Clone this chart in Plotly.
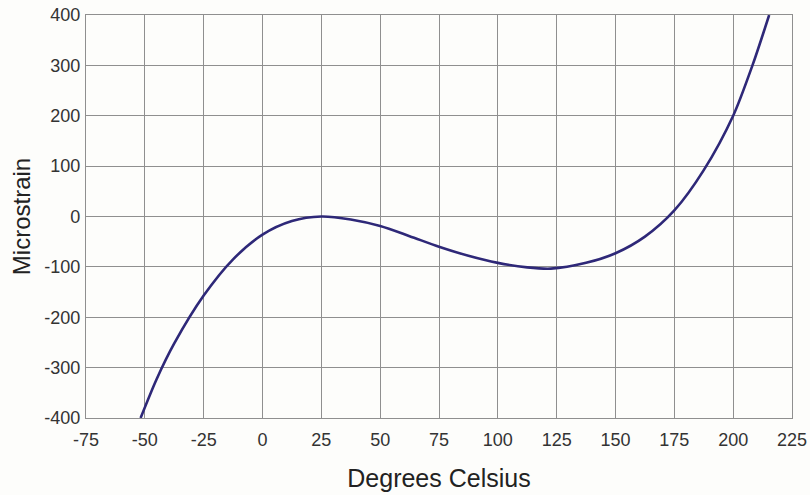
import plotly.graph_objects as go

# Temperature (deg C) and apparent strain (microstrain)
temperature_c = [-51.8, -45.0, -37.5, -25.0, -12.5, 0.0, 12.5, 25.0, 37.5, 50.0,
                 62.5, 75.0, 87.5, 100.0, 112.5, 122.5, 137.5, 150.0, 162.5,
                 175.0, 187.5, 200.0, 208.2, 215.3]
microstrain = [-400, -323, -252, -157, -85, -36, -9, 0, -6, -19,
               -39, -60, -78, -92, -101, -103.5, -92, -73, -40,
               12, 92, 200, 300, 400]

x_ticks = [-75, -50, -25, 0, 25, 50, 75, 100, 125, 150, 175, 200, 225]
y_ticks = [-400, -300, -200, -100, 0, 100, 200, 300, 400]

bg = "#fdfdfb"
grid = "#8f8f8f"
font_family = "Liberation Sans, Arial, sans-serif"

fig = go.Figure()
fig.add_trace(go.Scatter(
    x=temperature_c, y=microstrain, mode="lines",
    line=dict(color="#2e2878", width=2.6, shape="spline", smoothing=0.8),
    hoverinfo="x+y", showlegend=False,
))

fig.update_layout(
    width=810, height=495,
    margin=dict(l=86, r=18, t=15, b=77),
    paper_bgcolor=bg, plot_bgcolor=bg,
    font=dict(family=font_family, color="#333333", size=18),
)
fig.update_xaxes(
    range=[-75, 225], tickvals=x_ticks, ticktext=[str(v) for v in x_ticks],
    showgrid=True, gridcolor=grid, gridwidth=1.3, automargin=False,
    zeroline=False, showline=True, linecolor=grid, linewidth=1.3, mirror=True,
    ticks="", ticklabelstandoff=5,
    tickfont=dict(size=18, color="#333333"),
    title=dict(text="Degrees Celsius", font=dict(size=25, color="#222222"), standoff=20),
)
fig.update_yaxes(
    range=[-400, 400], tickvals=y_ticks, ticktext=[str(v) for v in y_ticks],
    showgrid=True, gridcolor=grid, gridwidth=1.3, automargin=False,
    zeroline=False, showline=True, linecolor=grid, linewidth=1.3, mirror=True,
    ticks="", ticklabelstandoff=1,
    tickfont=dict(size=18, color="#333333"),
    title=dict(text="Microstrain", font=dict(size=24, color="#222222"), standoff=6),
)

fig.write_html(
    "out.html",
    config={"displayModeBar": False},
    post_script="document.body.style.margin='0px';document.body.style.background='#fdfdfb';",
)
